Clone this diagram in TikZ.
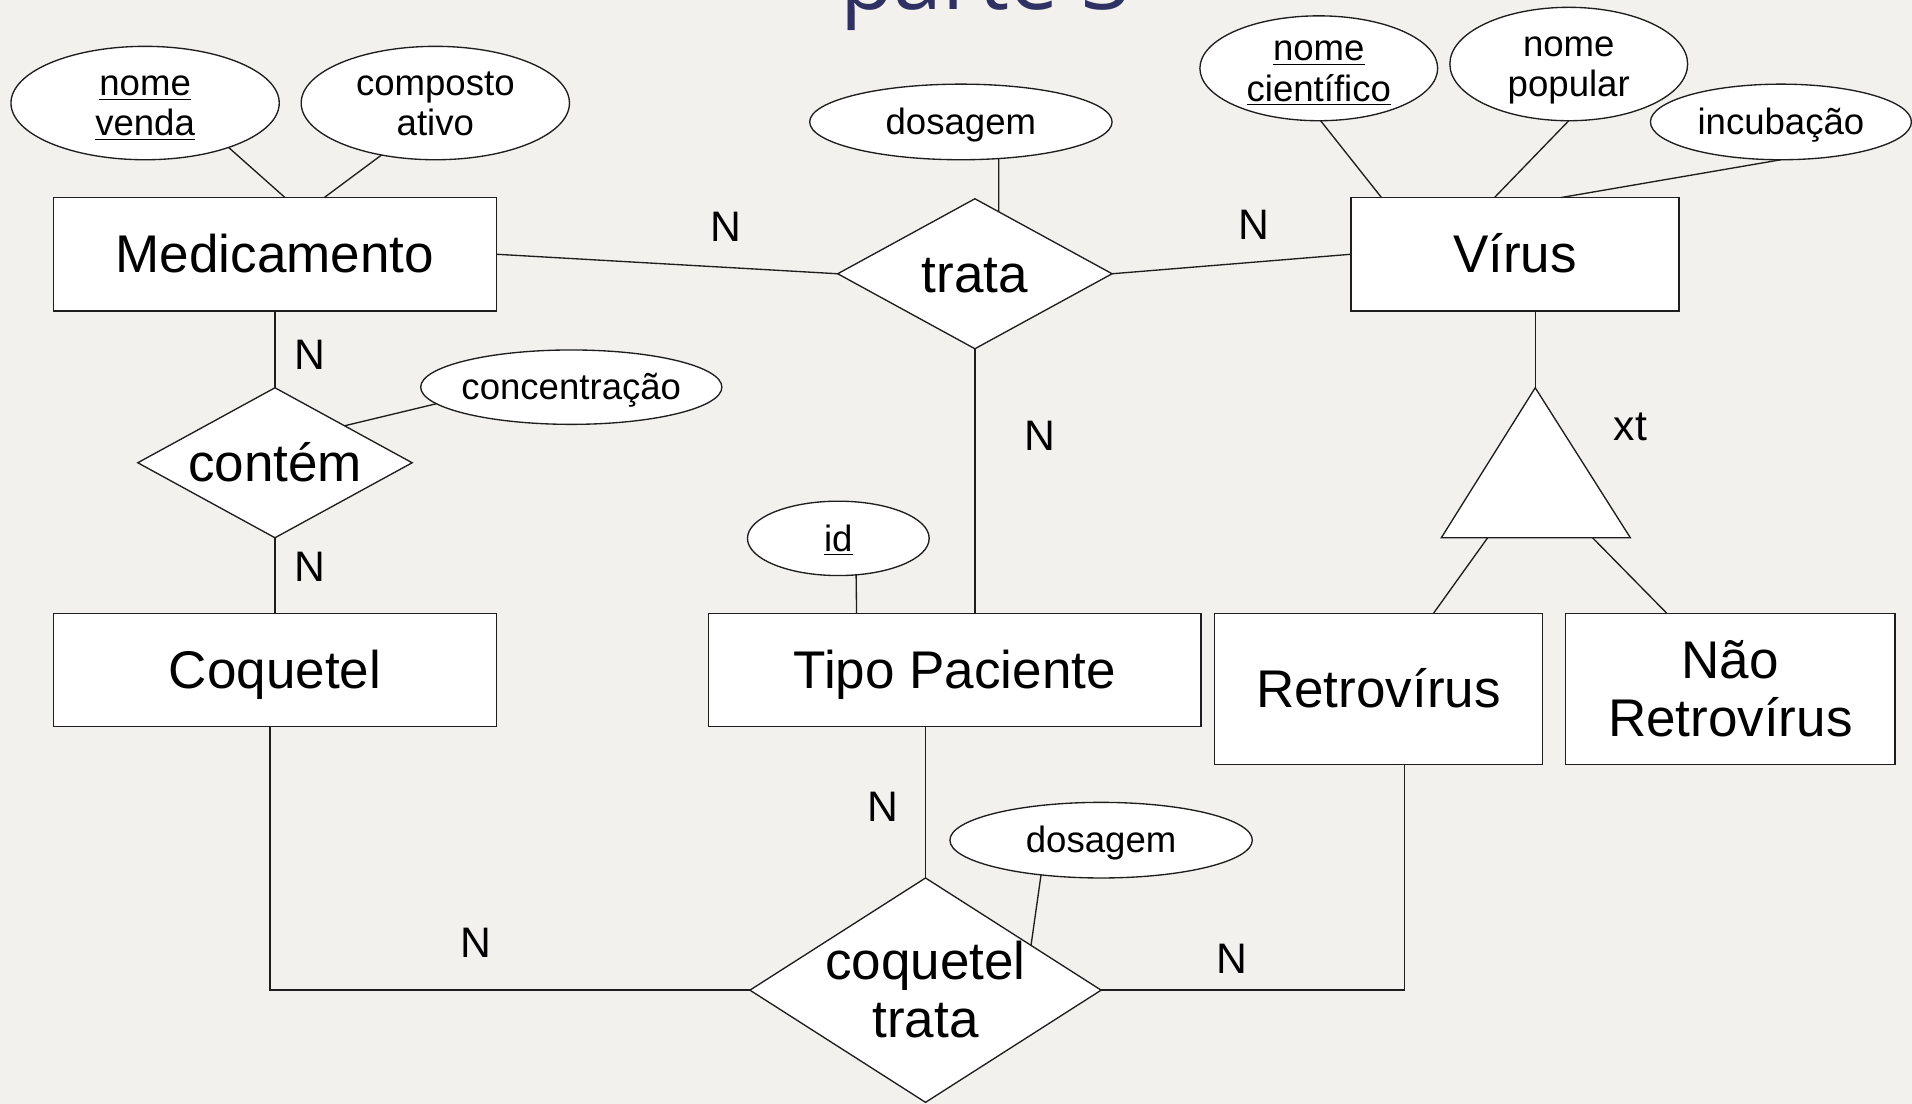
\documentclass[tikz,border=0pt]{standalone}
\usepackage{fontspec}
\setmainfont{Liberation Sans}
\newfontfamily\titlefont{Open Sans}
\usetikzlibrary{shapes.geometric,calc}
\definecolor{bgc}{RGB}{242,241,238}
\definecolor{titleblue}{RGB}{47,49,99}
\definecolor{linec}{RGB}{30,30,30}
\newcommand\myTopStrut{\rule{0pt}{0.905em}}
\newcommand\myBotStrut{\rule[-0.212em]{0pt}{0pt}}
\begin{document}
\begin{tikzpicture}[x=0.5pt,y=-0.5pt,
  every node/.style={inner sep=0pt, outer sep=0pt},
  ln/.style={draw=linec, line width=0.55pt},
  ent/.style={rectangle, draw=linec, fill=white, line width=0.55pt},
  rel/.style={diamond, draw=linec, fill=white, line width=0.55pt},
  attr/.style={ellipse, draw=linec, fill=white, line width=0.55pt},
  big/.style={font=\fontsize{21.75}{24}\selectfont, align=center},
  bigone/.style={big, text height=19.68pt, text depth=4.61pt},
  small/.style={font=\fontsize{15}{16.5}\selectfont, align=center},
  smallone/.style={small, text height=13.58pt, text depth=3.18pt},
  card/.style={font=\fontsize{17.5}{20}\selectfont},
]
\useasboundingbox (0,0) rectangle (1568,905);
\fill[bgc] (0,0) rectangle (1568,905);
\clip (0,0) rectangle (1568,905);

% title (cut off at top, as in the slide)
\node[font=\titlefont\fontsize{36}{36}\selectfont, text=titleblue, anchor=base west] (title) at (689,8) {parte 3};

% entities
\node[ent, bigone, minimum width=181.5pt, minimum height=46.5pt] (med) at (225.5,208.5) {Medicamento};
\node[ent, bigone, minimum width=134.5pt, minimum height=46.5pt] (vir) at (1242.5,208.5) {Vírus};
\node[ent, bigone, minimum width=181.5pt, minimum height=46.5pt] (coq) at (225.5,549.5) {Coquetel};
\node[ent, bigone, minimum width=202pt, minimum height=46.5pt] (tp) at (783,549.5) {Tipo Paciente};
\node[ent, bigone, minimum width=134.5pt, minimum height=62pt] (retro) at (1130.5,565) {Retrovírus};
\node[ent, big, minimum width=135pt, minimum height=62pt] (nao) at (1419,565) {\myTopStrut Não\\Retrovírus\myBotStrut};

% relationships
\node[rel, minimum width=112.5pt, minimum height=61.5pt] (trata) at (799.5,224.5) {};
\node[bigone] (trata-t) at (trata) {trata};
\node[rel, minimum width=112.5pt, minimum height=61.5pt] (contem) at (225.5,379.5) {};
\node[bigone] (contem-t) at (contem) {contém};
\node[rel, minimum width=144pt, minimum height=92pt] (ct) at (759,812) {};
\node[big] (ct-t) at (ct) {\myTopStrut coquetel\\trata\myBotStrut};

% attributes
\node[attr, minimum width=110pt, minimum height=46.5pt] (nv) at (119,84.5) {};
\node[small] (nv-t) at (nv) {\myTopStrut\underline{nome}\\\underline{venda}\myBotStrut};
\node[attr, minimum width=110pt, minimum height=46.5pt] (ca) at (357,84.5) {};
\node[small] (ca-t) at (ca) {\myTopStrut composto\\ativo\myBotStrut};
\node[attr, minimum width=124pt, minimum height=31pt] (dos1) at (788,100) {};
\node[smallone] (dos1-t) at (dos1) {dosagem};
\node[attr, minimum width=97.5pt, minimum height=43pt] (nc) at (1081.5,56) {};
\node[small] (nc-t) at (nc) {\myTopStrut\underline{nome}\\\underline{científico}\myBotStrut};
\node[attr, minimum width=97.5pt, minimum height=46.5pt] (np) at (1286.5,52.5) {};
\node[small] (np-t) at (np) {\myTopStrut nome\\popular\myBotStrut};
\node[attr, minimum width=107pt, minimum height=31pt] (inc) at (1460.5,100) {};
\node[smallone] (inc-t) at (inc) {incubação};
\node[attr, minimum width=123.5pt, minimum height=30.5pt] (conc) at (468.5,317.5) {};
\node[smallone] (conc-t) at (conc) {concentração};
\node[attr, minimum width=74.5pt, minimum height=30.5pt] (id) at (687.5,441.5) {};
\node[smallone] (id-t) at (id) {\underline{id}};
\node[attr, minimum width=124pt, minimum height=31pt] (dos2) at (903,689) {};
\node[smallone] (dos2-t) at (dos2) {dosagem};

% specialization triangle
\coordinate (tri-top) at (1259,318);
\coordinate (tri-bl) at (1182,441);
\coordinate (tri-br) at (1337,441);
\coordinate (tri-l) at (1220,441);
\coordinate (tri-r) at (1306,441);
\filldraw[fill=white, draw=linec, line width=0.55pt] (tri-top) -- (tri-bl) -- (tri-br) -- cycle;

% connectors
\draw[ln] (nv.-28.5) -- (med.80.8);
\draw[ln] (ca.-136) -- (med.49);
\draw[ln] (med.east) -- (trata.west);
\draw[ln] (trata.east) -- (vir.west);
\draw[ln] (dos1.-44) -- (trata.69);
\draw[ln] (trata.south) -- (trata.south |- tp.north);
\draw[ln] (med.south) -- (contem.north);
\draw[ln] (contem.south) -- (coq.north);
\draw[ln] (conc.-173.7) -- (contem.28.7);
\draw[ln] (id.-64.6) -- (tp.150.7);
\draw[ln] (nc.-88) -- (vir.157.2);
\draw[ln] (np.south) -- (vir.110.6);
\draw[ln] (inc.south) -- (vir.51.9);
\draw[ln] (tri-top |- vir.south) -- (tri-top);
\draw[ln] (tri-l) -- (retro.54.9);
\draw[ln] (tri-r) -- (nao.130);
\draw[ln] (coq.-95.5) |- (ct.west);
\draw[ln] (tp.south -| ct.north) -- (ct.north);
\draw[ln] (dos2.-150.4) -- (ct.23.7);
\draw[ln] (ct.east) -| (retro.-71.7);

% cardinalities
\node[card] (n1) at (595,186) {N};
\node[card] (n2) at (1028,184) {N};
\node[card] (n3) at (254,291) {N};
\node[card] (n4) at (254,465) {N};
\node[card] (n5) at (853,357) {N};
\node[card] (n6) at (724,662) {N};
\node[card] (n7) at (390,773) {N};
\node[card] (n8) at (1010,786) {N};
\node[card] (xt) at (1337,350) {xt};
\end{tikzpicture}
\end{document}
